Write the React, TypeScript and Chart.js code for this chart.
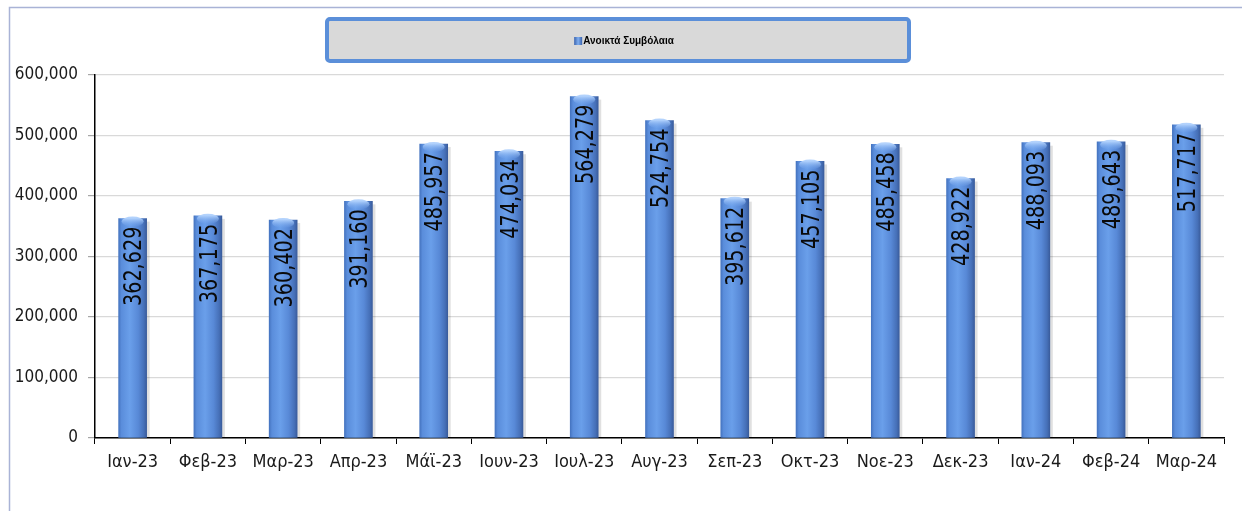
import React, { useEffect, useRef } from "react";
import { Chart, registerables } from "chart.js";

Chart.register(...registerables);

const categories = [
  "Ιαν-23", "Φεβ-23", "Μαρ-23", "Απρ-23", "Μάϊ-23", "Ιουν-23", "Ιουλ-23", "Αυγ-23",
  "Σεπ-23", "Οκτ-23", "Νοε-23", "Δεκ-23", "Ιαν-24", "Φεβ-24", "Μαρ-24",
];
const openContracts = [
  362629, 367175, 360402, 391160, 485957, 474034, 564279, 524754,
  395612, 457105, 485458, 428922, 488093, 489643, 517717,
];
const seriesLabel = "Ανοικτά Συμβόλαια";
const yTicks = [0, 100000, 200000, 300000, 400000, 500000, 600000];

const NARROW = "'Liberation Sans Narrow', 'DejaVu Sans Condensed', 'Arial Narrow', sans-serif";
const fmt = (v: number) => v.toLocaleString("en-US");

export default function App() {
  const ref = useRef<HTMLCanvasElement | null>(null);

  useEffect(() => {
    document.body.style.margin = "0";
    const canvas = ref.current!;

    const framePlugin = {
      id: "frame",
      beforeDraw(chart: any) {
        const c = chart.ctx;
        c.save();
        c.fillStyle = "#ffffff";
        c.fillRect(0, 0, chart.width, chart.height);
        c.strokeStyle = "#A9B3D6";
        c.lineWidth = 1.5;
        c.beginPath();
        c.moveTo(9.5, chart.height);
        c.lineTo(9.5, 7.5);
        c.lineTo(chart.width, 7.5);
        c.stroke();
        // legend box
        const x0 = 327, y0 = 19, w = 582, h = 42;
        c.fillStyle = "#D9D9D9";
        c.strokeStyle = "#5B8FD9";
        c.lineWidth = 4;
        c.beginPath();
        (c as any).roundRect(x0, y0, w, h, 3);
        c.fill();
        c.stroke();
        c.font = "bold 10px 'Liberation Sans', Arial, sans-serif";
        const tw = c.measureText(seriesLabel).width;
        const box = 8;
        const total = box + 1 + tw;
        const sx = x0 + w / 2 - total / 2 + 6;
        const cy = y0 + h / 2 + 1;
        const g = c.createLinearGradient(sx, 0, sx + box, 0);
        g.addColorStop(0, "#3A63AE");
        g.addColorStop(0.5, "#7FAEF0");
        g.addColorStop(1, "#3A63AE");
        c.fillStyle = g;
        c.fillRect(sx, cy - box / 2, box, box);
        c.fillStyle = "#000";
        c.textAlign = "left";
        c.textBaseline = "middle";
        c.fillText(seriesLabel, sx + box + 1, cy);
        c.restore();
      },
    };

    const shadowPlugin = {
      id: "barShadow",
      beforeDatasetsDraw(chart: any) {
        const c = chart.ctx;
        const meta = chart.getDatasetMeta(0);
        c.save();
        meta.data.forEach((el: any) => {
          if (!isFinite(el.x) || !isFinite(el.y)) return;
          const x1 = el.x + el.width / 2;
          c.fillStyle = "rgba(0,0,0,0.12)";
          c.fillRect(x1, el.y + 3, 3, el.base - el.y - 3);
        });
        c.restore();
      },
    };

    const capPlugin = {
      id: "caps",
      afterDatasetsDraw(chart: any) {
        const c = chart.ctx;
        const meta = chart.getDatasetMeta(0);
        c.save();
        meta.data.forEach((el: any, i: number) => {
          const x = el.x, y = el.y, w = el.width;
          if (!isFinite(x) || !isFinite(y)) return;
          const cg = c.createLinearGradient(0, y, 0, y + 9);
          cg.addColorStop(0, "rgba(175,208,252,0.95)");
          cg.addColorStop(1, "rgba(110,160,235,0)");
          c.fillStyle = cg;
          c.beginPath();
          c.ellipse(x, y + 3, w / 2 - 3, 5, 0, 0, Math.PI * 2);
          c.fill();
          const size = 24;
          c.font = `${size}px ${NARROW}`;
          c.fillStyle = "#0a0a0a";
          c.translate(x, y + 8);
          c.rotate(-Math.PI / 2);
          c.scale(0.89, 1);
          c.textAlign = "right";
          c.textBaseline = "alphabetic";
          c.fillText(fmt(openContracts[i]), 0, (size * 0.72) / 2);
          c.setTransform(1, 0, 0, 1, 0, 0);
        });
        c.restore();
      },
    };

    const barFill = (ctx: any) => {
      const chart = ctx.chart;
      const xs = chart.scales?.x;
      if (!xs || ctx.dataIndex === undefined) return "#5B8ED8";
      const cx = xs.getPixelForValue(ctx.dataIndex);
      if (!isFinite(cx)) return "#5B8ED8";
      const half = 14;
      const g = chart.ctx.createLinearGradient(cx - half, 0, cx + half, 0);
      g.addColorStop(0, "#4574C0");
      g.addColorStop(0.1, "#5A8DDB");
      g.addColorStop(0.4, "#6A9FEA");
      g.addColorStop(0.7, "#5889D7");
      g.addColorStop(0.9, "#4670B8");
      g.addColorStop(1, "#3A5C9C");
      return g;
    };

    const chart = new Chart(canvas, {
      type: "bar",
      data: {
        labels: categories,
        datasets: [
          {
            label: seriesLabel,
            data: openContracts,
            backgroundColor: barFill,
            barThickness: 28,
            borderWidth: 0,
          },
        ],
      },
      options: {
        animation: false,
        responsive: false,
        maintainAspectRatio: false,
        devicePixelRatio: 1,
        layout: { padding: { top: 75, right: 18, bottom: 0, left: 0 } },
        plugins: {
          legend: { display: false },
          tooltip: { enabled: false },
        },
        scales: {
          x: {
            grid: {
              drawOnChartArea: false,
              drawTicks: true,
              tickLength: 6,
              tickColor: "#000",
              offset: true,
            },
            border: { color: "#000", width: 1.5 },
            ticks: {
              color: "#1a1a1a",
              font: { family: NARROW, size: 18 },
              padding: 8,
              maxRotation: 0,
              autoSkip: false,
            },
            afterFit(scale: any) {
              scale.height = 73;
            },
          },
          y: {
            min: 0,
            max: 600000,
            afterBuildTicks(scale: any) {
              scale.ticks = yTicks.map((v) => ({ value: v }));
            },
            grid: {
              color: "#D9D9D9",
              tickColor: "#A6A6A6",
              tickLength: 7,
              lineWidth: 1.2,
            },
            border: { color: "#000", width: 1.5 },
            ticks: {
              color: "#1a1a1a",
              font: { family: NARROW, size: 17 },
              padding: 10,
              callback: (v: any) => fmt(Number(v)),
            },
            afterFit(scale: any) {
              scale.width = 95;
            },
          },
        },
      },
      plugins: [framePlugin, shadowPlugin, capPlugin],
    });

    return () => chart.destroy();
  }, []);

  return (
    <div style={{ width: 1242, height: 511 }}>
      <canvas ref={ref} width={1242} height={511} style={{ display: "block", width: 1242, height: 511 }} />
    </div>
  );
}
